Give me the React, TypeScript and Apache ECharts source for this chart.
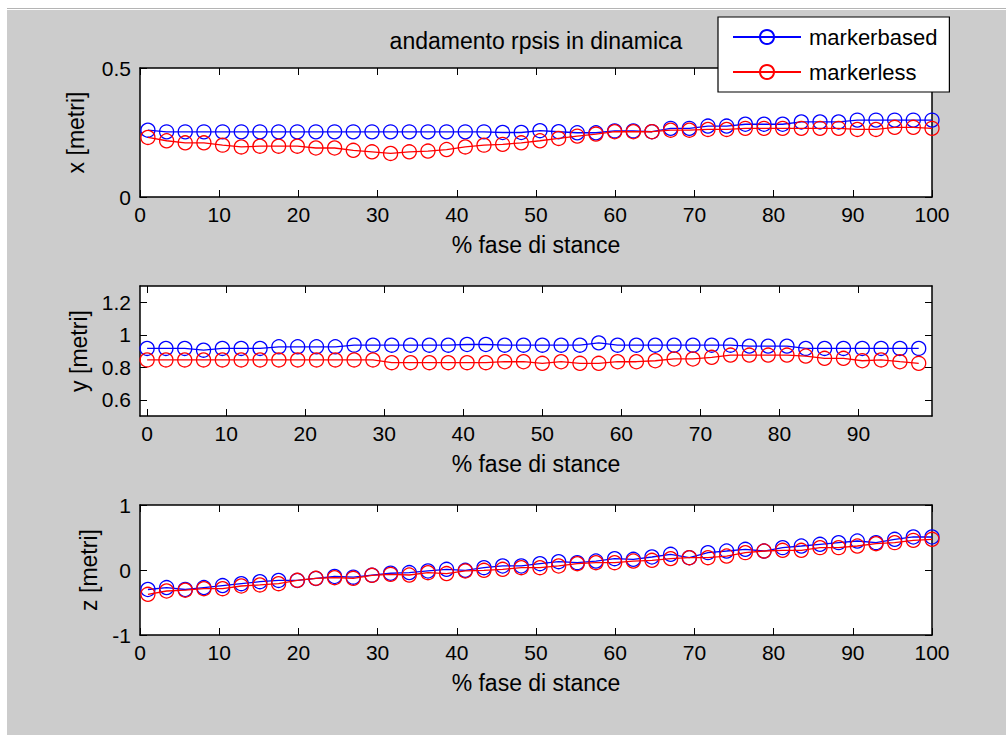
import React, { useEffect, useRef } from 'react';
import * as echarts from 'echarts';

const TITLE = 'andamento rpsis in dinamica';
const X_LABEL = '% fase di stance';
const Y_LABELS = ['x [metri]', 'y [metri]', 'z [metri]'];
const SERIES_NAMES = ['markerbased', 'markerless'];

// % stance positions (subplots x and z: 43 samples; subplot y: 42 samples)
const pctXZ = [1, 3.36, 5.71, 8.07, 10.43, 12.79, 15.14, 17.5, 19.86, 22.21, 24.57, 26.93, 29.29, 31.64, 34, 36.36, 38.71, 41.07, 43.43, 45.79, 48.14, 50.5, 52.86, 55.21, 57.57, 59.93, 62.29, 64.64, 67, 69.36, 71.71, 74.07, 76.43, 78.79, 81.14, 83.5, 85.86, 88.21, 90.57, 92.93, 95.29, 97.64, 100];
const pctY = [0, 2.38, 4.76, 7.14, 9.52, 11.9, 14.29, 16.67, 19.05, 21.43, 23.81, 26.19, 28.57, 30.95, 33.33, 35.71, 38.1, 40.48, 42.86, 45.24, 47.62, 50, 52.38, 54.76, 57.14, 59.52, 61.9, 64.29, 66.67, 69.05, 71.43, 73.81, 76.19, 78.57, 80.95, 83.33, 85.71, 88.1, 90.48, 92.86, 95.24, 97.62];

const xMarkerbased = [0.259, 0.2525, 0.2525, 0.2525, 0.2525, 0.2525, 0.2525, 0.2525, 0.2525, 0.2525, 0.2525, 0.2525, 0.2525, 0.2525, 0.2525, 0.2525, 0.2525, 0.2525, 0.2525, 0.25, 0.25, 0.257, 0.253, 0.249, 0.249, 0.256, 0.256, 0.253, 0.266, 0.266, 0.275, 0.275, 0.282, 0.282, 0.282, 0.291, 0.291, 0.291, 0.298, 0.298, 0.298, 0.298, 0.298];
const xMarkerless = [0.231, 0.218, 0.21, 0.21, 0.201, 0.194, 0.197, 0.197, 0.197, 0.19, 0.19, 0.181, 0.175, 0.169, 0.175, 0.178, 0.184, 0.194, 0.201, 0.204, 0.21, 0.218, 0.227, 0.236, 0.244, 0.253, 0.253, 0.253, 0.259, 0.259, 0.262, 0.262, 0.266, 0.266, 0.266, 0.266, 0.266, 0.266, 0.262, 0.262, 0.27, 0.27, 0.266];

const yMarkerbased = [0.916, 0.916, 0.916, 0.905, 0.916, 0.916, 0.916, 0.926, 0.926, 0.926, 0.926, 0.936, 0.936, 0.936, 0.936, 0.936, 0.936, 0.94, 0.94, 0.936, 0.936, 0.936, 0.936, 0.936, 0.95, 0.936, 0.936, 0.936, 0.936, 0.936, 0.936, 0.936, 0.93, 0.93, 0.93, 0.916, 0.916, 0.916, 0.916, 0.916, 0.916, 0.916];
const yMarkerless = [0.845, 0.845, 0.845, 0.845, 0.845, 0.845, 0.845, 0.845, 0.845, 0.845, 0.845, 0.845, 0.845, 0.828, 0.828, 0.828, 0.828, 0.828, 0.828, 0.834, 0.834, 0.824, 0.834, 0.824, 0.824, 0.834, 0.834, 0.84, 0.851, 0.851, 0.861, 0.875, 0.875, 0.875, 0.875, 0.869, 0.855, 0.855, 0.84, 0.845, 0.834, 0.824];

const zMarkerbased = [-0.3, -0.27, -0.3, -0.27, -0.24, -0.21, -0.18, -0.16, -0.16, -0.13, -0.1, -0.11, -0.08, -0.05, -0.04, -0.015, 0.01, -0.005, 0.036, 0.062, 0.062, 0.097, 0.128, 0.113, 0.138, 0.174, 0.164, 0.2, 0.241, 0.19, 0.267, 0.292, 0.318, 0.292, 0.344, 0.369, 0.395, 0.421, 0.446, 0.421, 0.472, 0.508, 0.508];
const zMarkerless = [-0.374, -0.323, -0.31, -0.287, -0.287, -0.246, -0.23, -0.21, -0.159, -0.128, -0.118, -0.128, -0.082, -0.067, -0.077, -0.041, -0.055, -0.015, -0.005, 0.01, 0.036, 0.036, 0.062, 0.097, 0.113, 0.113, 0.138, 0.149, 0.175, 0.19, 0.19, 0.215, 0.267, 0.292, 0.303, 0.303, 0.344, 0.344, 0.369, 0.405, 0.421, 0.456, 0.472];

const xTicksStance = [0, 10, 20, 30, 40, 50, 60, 70, 80, 90, 100];
const xTicksStanceY = [0, 10, 20, 30, 40, 50, 60, 70, 80, 90];
const yTicksX = [0, 0.5];
const yTicksY = [0.6, 0.8, 1, 1.2];
const yTicksZ = [-1, 0, 1];

const FONT = '"Liberation Sans", Arial, Helvetica, sans-serif';
const BLUE = '#0000ff';
const RED = '#ff0000';

export default function App() {
  const ref = useRef<HTMLDivElement>(null);

  useEffect(() => {
    if (!ref.current) return;
    const chart = echarts.init(ref.current, null, { renderer: 'svg' });

    const grids = [
      { left: 140, top: 68, width: 792, height: 129 },
      { left: 140, top: 286, width: 792, height: 130 },
      { left: 140, top: 505, width: 792, height: 130 },
    ];

    const tick = (vals: number[]) => ({
      show: true,
      inside: true,
      length: 7,
      customValues: vals,
      lineStyle: { color: '#000', width: 1 },
    });
    const line = { show: true, onZero: false, lineStyle: { color: '#000', width: 1.5 } };
    const labelStyle = { color: '#000', fontSize: 21, fontFamily: FONT };
    const nameStyle = { color: '#000', fontSize: 23, fontFamily: FONT };
    const fmt = (v: number) => String(Math.round(v * 1000) / 1000);

    const xDefs = [
      { min: 0, max: 100, ticks: xTicksStance, gap: 36 },
      { min: -0.9, max: 99.3, ticks: xTicksStanceY, gap: 36 },
      { min: 0, max: 100, ticks: xTicksStance, gap: 36 },
    ];
    const yDefs = [
      { min: 0, max: 0.5, ticks: yTicksX, gap: 53 },
      { min: 0.5, max: 1.3, ticks: yTicksY, gap: 49 },
      { min: -1, max: 1, ticks: yTicksZ, gap: 40 },
    ];

    const xAxis: any[] = [];
    const yAxis: any[] = [];
    for (let g = 0; g < 3; g++) {
      const xd = xDefs[g];
      const yd = yDefs[g];
      xAxis.push({
        type: 'value', gridIndex: g, position: 'bottom', min: xd.min, max: xd.max,
        axisLine: line, axisTick: tick(xd.ticks), splitLine: { show: false },
        axisLabel: { ...labelStyle, margin: 7, customValues: xd.ticks, formatter: fmt },
        name: X_LABEL, nameLocation: 'middle', nameGap: xd.gap,
        nameTextStyle: nameStyle,
      });
      xAxis.push({
        type: 'value', gridIndex: g, position: 'top', min: xd.min, max: xd.max,
        axisLine: line, axisTick: tick(xd.ticks), splitLine: { show: false },
        axisLabel: { show: false, customValues: xd.ticks },
      });
      yAxis.push({
        type: 'value', gridIndex: g, position: 'left', min: yd.min, max: yd.max,
        axisLine: line, axisTick: tick(yd.ticks), splitLine: { show: false },
        axisLabel: { ...labelStyle, margin: 9, customValues: yd.ticks, formatter: fmt },
        name: Y_LABELS[g], nameLocation: 'middle', nameGap: yd.gap,
        nameTextStyle: nameStyle,
      });
      yAxis.push({
        type: 'value', gridIndex: g, position: 'right', min: yd.min, max: yd.max,
        axisLine: line, axisTick: tick(yd.ticks), splitLine: { show: false },
        axisLabel: { show: false, customValues: yd.ticks },
      });
    }

    const pairs = [
      [pctXZ, xMarkerbased, xMarkerless],
      [pctY, yMarkerbased, yMarkerless],
      [pctXZ, zMarkerbased, zMarkerless],
    ] as const;

    const series: any[] = [];
    pairs.forEach(([xs, b, r], g) => {
      [b, r].forEach((vals, k) => {
        const c = k === 0 ? BLUE : RED;
        series.push({
          type: 'line',
          name: SERIES_NAMES[k],
          xAxisIndex: g * 2,
          yAxisIndex: g * 2,
          data: xs.map((x, i) => [x, vals[i]]),
          symbol: 'circle',
          symbolSize: 14,
          showAllSymbol: true,
          lineStyle: { color: c, width: 1.3 },
          itemStyle: { color: 'rgba(0,0,0,0)', borderColor: c, borderWidth: 1.3 },
          emphasis: { disabled: true },
          z: 3 + k,
        });
      });
    });

    chart.setOption({
      animation: false,
      backgroundColor: 'transparent',
      title: {
        text: TITLE, left: 531, top: 24, textAlign: 'center',
        textStyle: { fontSize: 23, fontWeight: 'normal', color: '#000', fontFamily: FONT },
      },
      legend: {
        data: SERIES_NAMES,
        orient: 'vertical',
        left: 718,
        top: 17,
        padding: [9, 12, 9, 14],
        itemGap: 13,
        itemWidth: 68,
        itemHeight: 17.5,
        backgroundColor: '#ffffff',
        borderColor: '#000',
        borderWidth: 1.2,
        borderRadius: 0,
        textStyle: { fontSize: 22, color: '#000', fontFamily: FONT, padding: [0, 0, 0, 3] },
        selectedMode: false,
      },
      grid: grids.map((g) => ({ ...g, show: true, backgroundColor: '#ffffff', borderWidth: 0 })),
      xAxis,
      yAxis,
      series,
    });

    return () => chart.dispose();
  }, []);

  return (
    <div style={{ position: 'fixed', left: 0, top: 0, width: 1006, height: 735, background: '#ffffff' }}>
      <div style={{ position: 'absolute', left: 7, top: 8, right: 0, height: 1, background: '#b4b4b4' }} />
      <div style={{ position: 'absolute', left: 7, top: 10, right: 0, bottom: 0, background: '#cccccc' }} />
      <div ref={ref} style={{ position: 'absolute', left: 0, top: 0, width: 1006, height: 735 }} />
    </div>
  );
}
